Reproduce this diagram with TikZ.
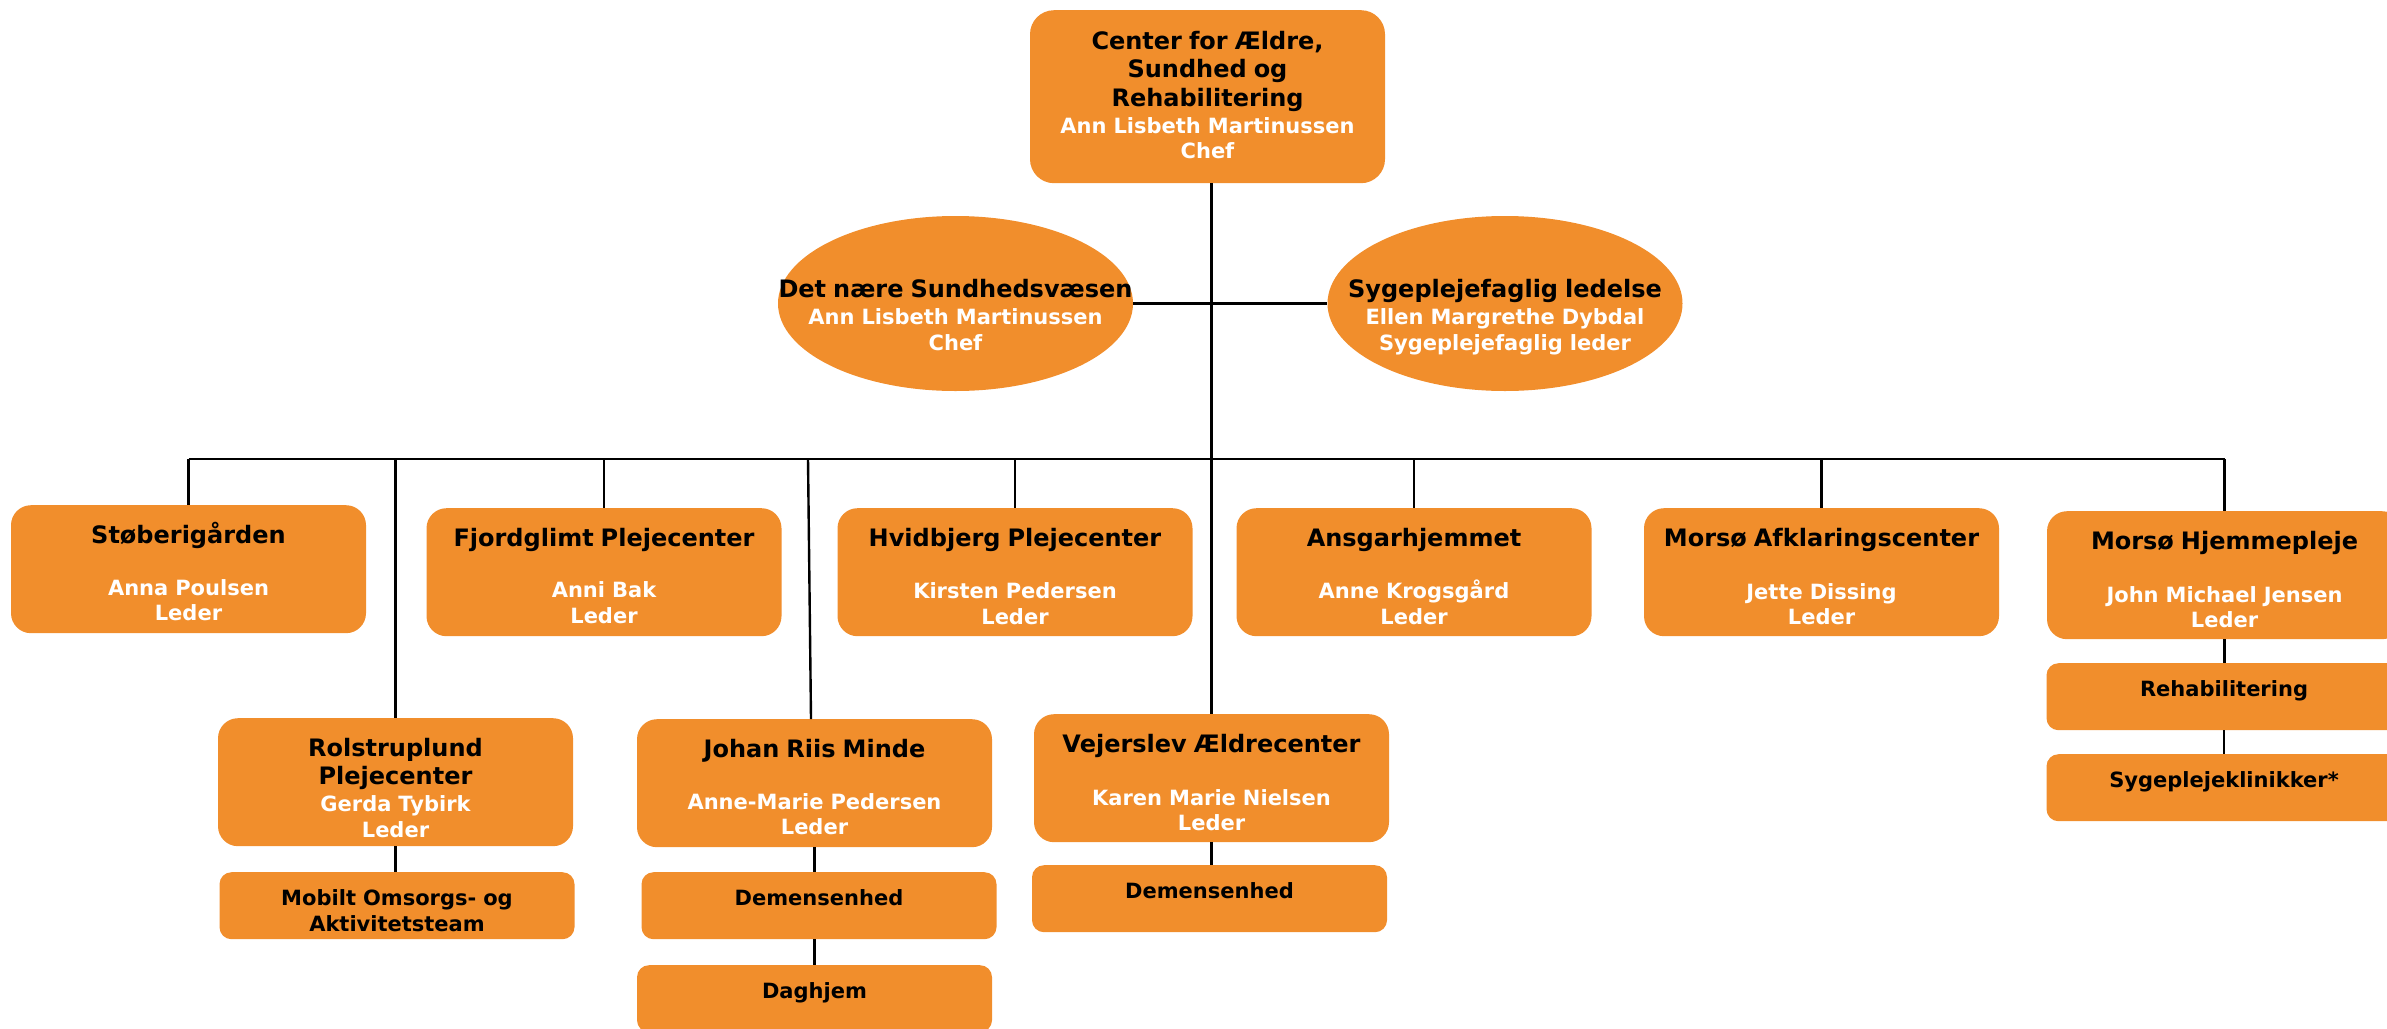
\documentclass[tikz,border=0pt]{standalone}
\usepackage{fontspec}
\setmainfont{DejaVu Sans}
\usetikzlibrary{shapes.geometric}
\definecolor{orng}{RGB}{241,142,44}
\newcommand\otitle{\fontsize{24}{25}\selectfont\color{black}}
\newcommand\osmall{\fontsize{21}{25}\selectfont\color{black}}
\begin{document}
\begin{tikzpicture}[x=1pt,y=-1pt,
  orgbox/.style={fill=orng, draw=none, inner sep=0pt, align=center, text width=355pt, text=white, font=\bfseries\fontsize{21}{25}\selectfont, anchor=north},
  bigbox/.style={orgbox, rounded corners=20pt, text height=38pt, text depth=90pt},
  smallbox/.style={orgbox, rounded corners=12pt, text height=33pt, text depth=34pt, text=black},
  ovalnode/.style={ellipse, fill=orng, draw=none, minimum width=355pt, minimum height=175pt, inner sep=0pt},
  ovaltext/.style={inner sep=0pt, align=center, text width=380pt, text=white, font=\bfseries\fontsize{21}{25}\selectfont, text height=19pt, text depth=58pt, yshift=-13.5pt},
  conn/.style={draw=black, line width=2.4pt}
]
\useasboundingbox (0,0) rectangle (2387,1028);

% top
\node[orgbox, rounded corners=24pt, text height=39pt, text depth=134pt] (ctr) at (1207.5,10)
  {{\otitle Center for Ældre,}\\[3pt]{\otitle Sundhed og}\\[4pt]{\otitle Rehabilitering}\\[2pt]Ann Lisbeth Martinussen\\Chef};

% staff ellipses
\node[ovalnode, label={[ovaltext]center:{{\otitle Det nære Sundhedsvæsen}\\[2pt]Ann Lisbeth Martinussen\\[1pt]Chef}}] (dns) at (955.5,303.5) {};
\node[ovalnode, label={[ovaltext]center:{{\otitle Sygeplejefaglig ledelse}\\[2pt]Ellen Margrethe Dybdal\\[1pt]Sygeplejefaglig leder}}] (sfl) at (1505,303.5) {};

% row 1
\node[bigbox] (stob) at (188.5,505) {{\otitle Støberigården}\\[27pt]Anna Poulsen\\Leder};
\node[bigbox] (fjord) at (604,508) {{\otitle Fjordglimt Plejecenter}\\[26pt]Anni Bak\\[1pt]Leder};
\node[bigbox] (hvid) at (1015,508) {{\otitle Hvidbjerg Plejecenter}\\[27pt]Kirsten Pedersen\\[1pt]Leder};
\node[bigbox] (ansg) at (1414,508) {{\otitle Ansgarhjemmet}\\[27pt]Anne Krogsgård\\[1pt]Leder};
\node[bigbox] (afkl) at (1821.5,508) {{\otitle Morsø Afklaringscenter}\\[28pt]Jette Dissing\\Leder};
\node[bigbox] (hjem) at (2224.5,511) {{\otitle Morsø Hjemmepleje}\\[28pt]John Michael Jensen\\Leder};

% row 2
\node[bigbox] (rols) at (395.5,718) {{\otitle Rolstruplund}\\[3pt]{\otitle Plejecenter}\\[2pt]Gerda Tybirk\\[1pt]Leder};
\node[bigbox] (jrm) at (814.5,719) {{\otitle Johan Riis Minde}\\[27pt]Anne-Marie Pedersen\\Leder};
\node[bigbox] (vej) at (1211.5,714) {{\otitle Vejerslev Ældrecenter}\\[28pt]Karen Marie Nielsen\\Leder};

% small units
\node[smallbox] (mob) at (397,872) {Mobilt Omsorgs- og\\[1pt]Aktivitetsteam};
\node[smallbox] (jdem) at (819,872) {Demensenhed};
\node[smallbox] (dag) at (814.5,965) {Daghjem};
\node[smallbox] (vdem) at (1209.5,865) {Demensenhed};
\node[smallbox] (reha) at (2224,663) {Rehabilitering};
\node[smallbox] (syge) at (2224,754) {Sygeplejeklinikker*};

% connectors
\path (0,459) coordinate (busy);
\path ([xshift=-6.5pt]jrm.north) coordinate (jrmbus);
\path ([xshift=-3.5pt]jrm.north) coordinate (jrmtop);
\draw[conn] (ctr.south -| vej.north) -- (vej.north);
\draw[conn] (dns.east) -- (sfl.west);
\draw[conn] (stob.north |- busy) -- (hjem.north |- busy);
\foreach \n in {stob,rols,fjord,hvid,ansg,afkl,hjem}
  \draw[conn] (\n.north |- busy) -- (\n.north);
\draw[conn] (jrmbus |- busy) -- (jrmtop);
\draw[conn] (rols.south) -- (rols.south |- mob.north);
\draw[conn] (jrm.south) -- (jrm.south |- jdem.north);
\draw[conn] (dag.north |- jdem.south) -- (dag.north);
\draw[conn] (vej.south) -- (vej.south |- vdem.north);
\draw[conn] (hjem.south) -- (hjem.south |- reha.north);
\draw[conn] (reha.south) -- (syge.north);
\end{tikzpicture}
\end{document}
